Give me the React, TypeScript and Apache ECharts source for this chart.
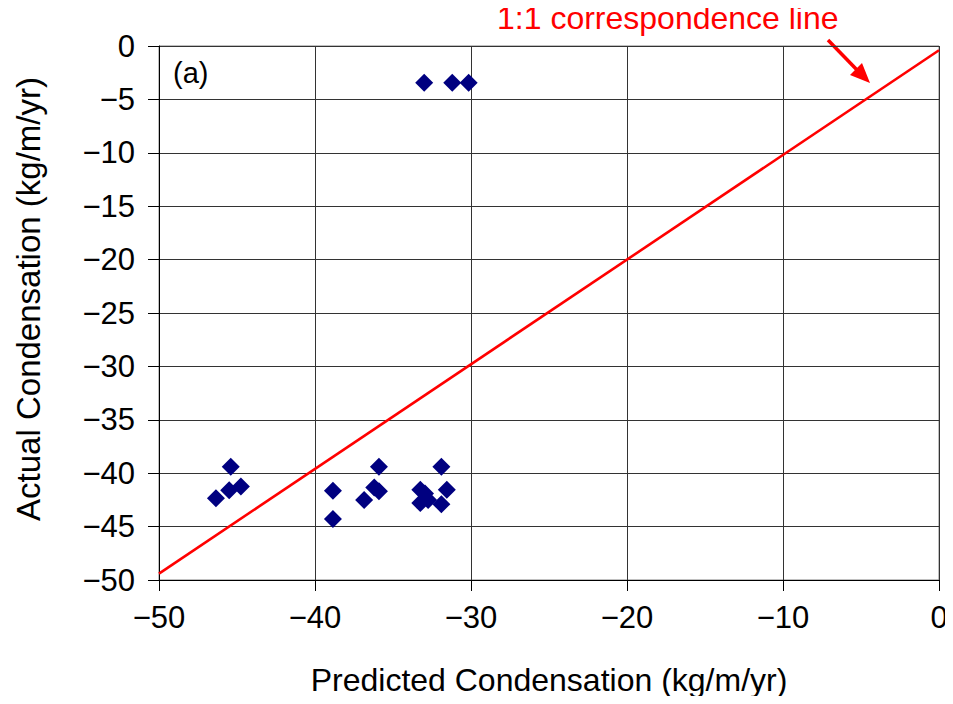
import React, { useEffect, useRef } from "react";
import * as echarts from "echarts";

const predicted: number[] = [
  -45.4, -46.35, -45.5, -44.75,
  -38.85, -38.85,
  -35.9, -36.85, -36.2, -35.9,
  -31.9, -33.25, -32.95, -33.25, -32.75, -31.55, -31.9,
  -33.0, -31.2, -30.15,
];
const actual: number[] = [
  -39.4, -42.35, -41.6, -41.25,
  -41.65, -44.3,
  -39.4, -42.5, -41.35, -41.7,
  -39.4, -41.55, -41.9, -42.8, -42.5, -41.55, -42.9,
  -3.45, -3.45, -3.45,
];
const lineX: number[] = [-50, 0];
const lineY: number[] = [-49.4, -0.4];
const xTicks: number[] = [-50, -40, -30, -20, -10, 0];
const yTicks: number[] = [0, -5, -10, -15, -20, -25, -30, -35, -40, -45, -50];

const FONT = "Liberation Sans, Arial, sans-serif";
const fmt = (v: number) => (v < 0 ? "\u2212" + Math.abs(v) : String(v));

export default function App() {
  const ref = useRef<HTMLDivElement>(null);
  useEffect(() => {
    if (!ref.current) return;
    const chart = echarts.init(ref.current, null, { renderer: "svg" });
    chart.setOption({
      animation: false,
      backgroundColor: "#ffffff",
      grid: {
        left: 159,
        right: 14,
        top: 46,
        bottom: 124,
        show: true,
        borderColor: "#808080",
        borderWidth: 1,
      },
      xAxis: {
        type: "value",
        min: xTicks[0],
        max: xTicks[xTicks.length - 1],
        interval: 10,
        name: "Predicted Condensation (kg/m/yr)",
        nameLocation: "middle",
        nameGap: 84,
        nameTextStyle: { fontFamily: FONT, fontSize: 32, color: "#000" },
        axisLine: { show: true, onZero: false, lineStyle: { color: "#000", width: 1 } },
        axisTick: { show: true, inside: false, length: 11, lineStyle: { color: "#000" } },
        axisLabel: {
          fontFamily: FONT,
          fontSize: 31,
          color: "#000",
          margin: 22,
          formatter: fmt,
        },
        splitLine: { show: true, lineStyle: { color: "#333333", width: 1 } },
      },
      yAxis: {
        type: "value",
        min: yTicks[yTicks.length - 1],
        max: yTicks[0],
        interval: 5,
        axisLine: { show: true, onZero: false, lineStyle: { color: "#000", width: 1 } },
        axisTick: { show: true, inside: false, length: 11, lineStyle: { color: "#000" } },
        axisLabel: {
          fontFamily: FONT,
          fontSize: 31,
          color: "#000",
          margin: 24,
          formatter: fmt,
        },
        splitLine: { show: true, lineStyle: { color: "#333333", width: 1 } },
      },
      series: [
        {
          type: "line",
          data: lineX.map((x, i) => [x, lineY[i]]),
          showSymbol: false,
          symbol: "none",
          lineStyle: { color: "#ff0000", width: 2.6 },
          z: 2,
        },
        {
          type: "scatter",
          data: predicted.map((x, i) => [x, actual[i]]),
          symbol: "diamond",
          symbolSize: 18,
          itemStyle: { color: "#000080", opacity: 1 },
          z: 3,
        },
      ],
      graphic: [
        {
          type: "text",
          x: 28,
          y: 299,
          rotation: Math.PI / 2,
          style: {
            text: "Actual Condensation (kg/m/yr)",
            fontFamily: FONT,
            fontSize: 33,
            fill: "#000",
            align: "center",
            verticalAlign: "middle",
          },
        },
        {
          type: "text",
          left: 173,
          top: 58,
          style: { text: "(a)", fontFamily: FONT, fontSize: 29, fill: "#000" },
        },
        {
          type: "text",
          left: 497,
          top: 2,
          style: { text: "1:1 correspondence line", fontFamily: FONT, fontSize: 32, fill: "#ff0000" },
        },
        {
          type: "line",
          shape: { x1: 828, y1: 40, x2: 858, y2: 71 },
          style: { stroke: "#ff0000", lineWidth: 3.5 },
        },
        {
          type: "polygon",
          shape: { points: [[870, 83], [850, 75], [862, 63]] },
          style: { fill: "#ff0000" },
        },
      ],
    });
    return () => chart.dispose();
  }, []);
  return <div ref={ref} style={{ width: 953, height: 704, margin: -8 }} />;
}
